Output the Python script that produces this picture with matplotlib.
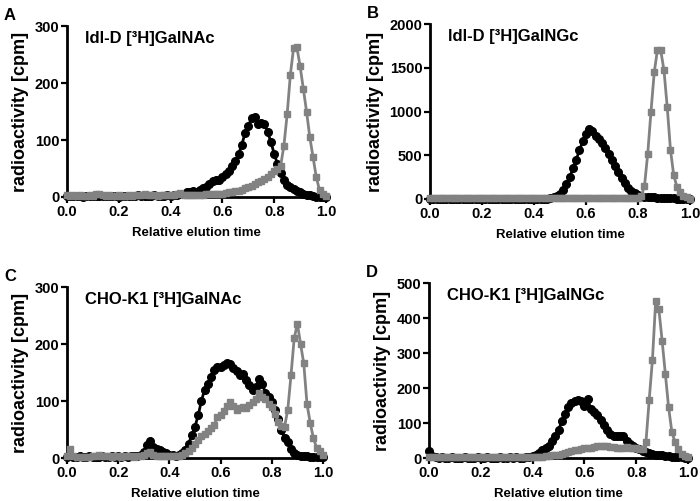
import numpy as np
import matplotlib
matplotlib.use('Agg')
import matplotlib.pyplot as plt

plt.rcParams['font.family'] = ['Liberation Sans', 'DejaVu Sans']
plt.rcParams['font.weight'] = 'bold'

# fractions collected, expressed as relative elution time
fraction = np.arange(81)
elution = fraction / 80

# A: ldl-D [3H]GalNAc
a_black = [2, 1, 1, 2, 1, 0, 1, 2, 1, 1,
           1, 2, 1, 1, 2, 1, 0, 1, 1, 2,
           1, 2, 3, 2, 2, 1, 2, 3, 2, 2,
           2, 3, 2, 3, 4, 5, 6, 8, 9, 11,
           9, 12, 15, 18, 22, 28, 30, 29, 35, 40,
           46, 54, 63, 75, 92, 112, 125, 138, 140, 129,
           130, 128, 114, 96, 76, 58, 42, 30, 21, 17,
           14, 11, 8, 6, 4, 3, 1, 0, 0, 0,
           0]
a_gray = [3, 2, 3, 2, 3, 2, 2, 3, 2, 6,
          6, 3, 2, 3, 2, 2, 3, 2, 2, 3,
          2, 3, 3, 4, 5, 4, 3, 3, 2, 3,
          3, 3, 4, 3, 5, 7, 4, 3, 3, 3,
          3, 4, 4, 5, 5, 5, 6, 6, 6, 7,
          8, 9, 10, 11, 13, 15, 17, 20, 23, 26,
          28, 31, 35, 40, 45, 50, 55, 90, 145, 215,
          262, 263, 230, 190, 150, 105, 70, 35, 12, 5,
          2]

# B: ldl-D [3H]GalNGc
b_black = [3, 2, 2, 3, 2, 2, 3, 2, 2, 3,
           2, 2, 3, 2, 2, 3, 2, 2, 3, 2,
           2, 3, 2, 2, 3, 2, 2, 3, 2, 2,
           3, 2, 3, 3, 4, 4, 5, 10, 20, 35,
           60, 100, 170, 250, 350, 450, 560, 660, 740, 800,
           780, 720, 690, 640, 580, 520, 450, 380, 310, 240,
           180, 130, 95, 70, 50, 35, 28, 22, 25, 20,
           15, 12, 10, 8, 8, 6, 5, 5, 4, 3,
           2]
b_gray = [8, 7, 8, 7, 8, 7, 8, 7, 8, 7,
          8, 7, 8, 7, 8, 7, 8, 7, 8, 7,
          8, 7, 8, 7, 8, 7, 8, 7, 8, 7,
          8, 7, 8, 7, 8, 7, 8, 7, 8, 7,
          8, 7, 8, 7, 8, 7, 8, 7, 8, 7,
          8, 7, 8, 7, 8, 7, 8, 7, 8, 7,
          8, 8, 9, 10, 12, 30, 150, 520, 1000, 1450,
          1710, 1700, 1470, 1050, 560, 270, 140, 80, 40, 20,
          5]

# C: CHO-K1 [3H]GalNAc
c_black = [2, 3, 2, 2, 3, 2, 2, 3, 2, 2,
           2, 3, 2, 2, 3, 2, 3, 2, 3, 2,
           3, 3, 4, 6, 10, 22, 30, 20, 15, 14,
           11, 8, 6, 5, 4, 5, 8, 14, 25, 40,
           55, 75, 100, 120, 130, 143, 155, 160, 160, 164,
           167, 165, 158, 152, 146, 148, 137, 128, 120, 125,
           138, 130, 115, 108, 98, 84, 68, 50, 35, 28,
           15, 8, 5, 4, 3, 3, 2, 2, 2, 1,
           1]
c_gray = [3, 15, 3, 2, 2, 2, 2, 2, 3, 4,
          5, 4, 3, 3, 2, 3, 3, 2, 3, 4,
          3, 2, 3, 3, 5, 8, 10, 6, 4, 4,
          4, 4, 3, 4, 4, 4, 5, 8, 12, 17,
          25, 32, 38, 43, 47, 52, 58, 72, 75, 82,
          92, 99, 92, 85, 87, 90, 87, 93, 99, 104,
          114, 108, 103, 95, 90, 78, 64, 57, 55, 85,
          145, 210, 236, 200, 166, 95, 62, 35, 18, 12,
          6]

# D: CHO-K1 [3H]GalNGc
d_black = [20, 5, 2, 1, 2, 1, 1, 2, 1, 1,
           1, 2, 1, 1, 1, 2, 1, 1, 2, 1,
           1, 1, 2, 1, 1, 2, 1, 2, 1, 1,
           2, 2, 5, 10, 15, 22, 28, 35, 48, 62,
           80, 105, 125, 145, 158, 163, 166, 162, 150, 168,
           140, 133, 124, 110, 95, 80, 68, 64, 63, 63,
           62, 50, 40, 35, 30, 25, 20, 17, 15, 12,
           10, 9, 8, 6, 5, 4, 3, 2, 2, 1,
           1]
d_gray = [3, 2, 2, 3, 2, 2, 3, 2, 2, 3,
          2, 3, 2, 2, 3, 2, 2, 3, 2, 2,
          3, 2, 2, 3, 2, 2, 3, 2, 2, 3,
          2, 3, 2, 3, 3, 4, 5, 6, 8, 9,
          10, 12, 15, 18, 20, 22, 24, 26, 28, 29,
          30, 32, 33, 34, 35, 33, 32, 31, 30, 30,
          30, 31, 30, 29, 28, 27, 27, 45, 166, 280,
          448, 425, 335, 240, 145, 75, 45, 25, 12, 5,
          2]

panels = [
    ('A', 'ldl-D [³H]GalNAc', a_black, a_gray, 300, [0, 100, 200, 300],
     [0.0957, 0.6068, 0.370, 0.341]),
    ('B', 'ldl-D [³H]GalNGc', b_black, b_gray, 2000, [0, 500, 1000, 1500, 2000],
     [0.6143, 0.6028, 0.3714, 0.349]),
    ('C', 'CHO-K1 [³H]GalNAc', c_black, c_gray, 300, [0, 100, 200, 300],
     [0.0957, 0.0858, 0.3657, 0.341]),
    ('D', 'CHO-K1 [³H]GalNGc', d_black, d_gray, 500, [0, 100, 200, 300, 400, 500],
     [0.6129, 0.0858, 0.370, 0.349]),
]

fig = plt.figure(figsize=(7, 5.01), dpi=100)

for letter, title, black, gray, ymax, yticks, pos in panels:
    ax = fig.add_axes(pos)
    ax.plot(elution, black, '-o', color='black', lw=2, ms=5.5,
            clip_on=False, zorder=3)
    ax.plot(elution, gray, '-s', color='#828282', lw=2, ms=5,
            clip_on=False, zorder=4)
    ax.set_xlim(0, 1)
    ax.set_ylim(0, ymax)
    ax.set_xticks([0, 0.2, 0.4, 0.6, 0.8, 1.0])
    ax.set_xticklabels(['0.0', '0.2', '0.4', '0.6', '0.8', '1.0'])
    ax.set_yticks(yticks)
    for s in ['top', 'right']:
        ax.spines[s].set_visible(False)
    for s in ['left', 'bottom']:
        ax.spines[s].set_linewidth(2)
    ax.tick_params(width=1.6, length=4, labelsize=10.5, pad=1.5)
    for lab in ax.get_xticklabels() + ax.get_yticklabels():
        lab.set_fontweight('bold')
    ax.set_xlabel('Relative elution time', fontsize=9.5, fontweight='bold', labelpad=6)
    ax.set_ylabel('radioactivity [cpm]', fontsize=13, fontweight='bold', labelpad=4)
    ax.text(0.07, 0.93, title, transform=ax.transAxes, fontsize=12,
            fontweight='bold', va='center')
    # panel letter
    fig.text(pos[0] - 0.09, pos[1] + pos[3] + 0.022, letter, fontsize=12,
             fontweight='bold', va='center')

fig.savefig('out.png', dpi=100)
